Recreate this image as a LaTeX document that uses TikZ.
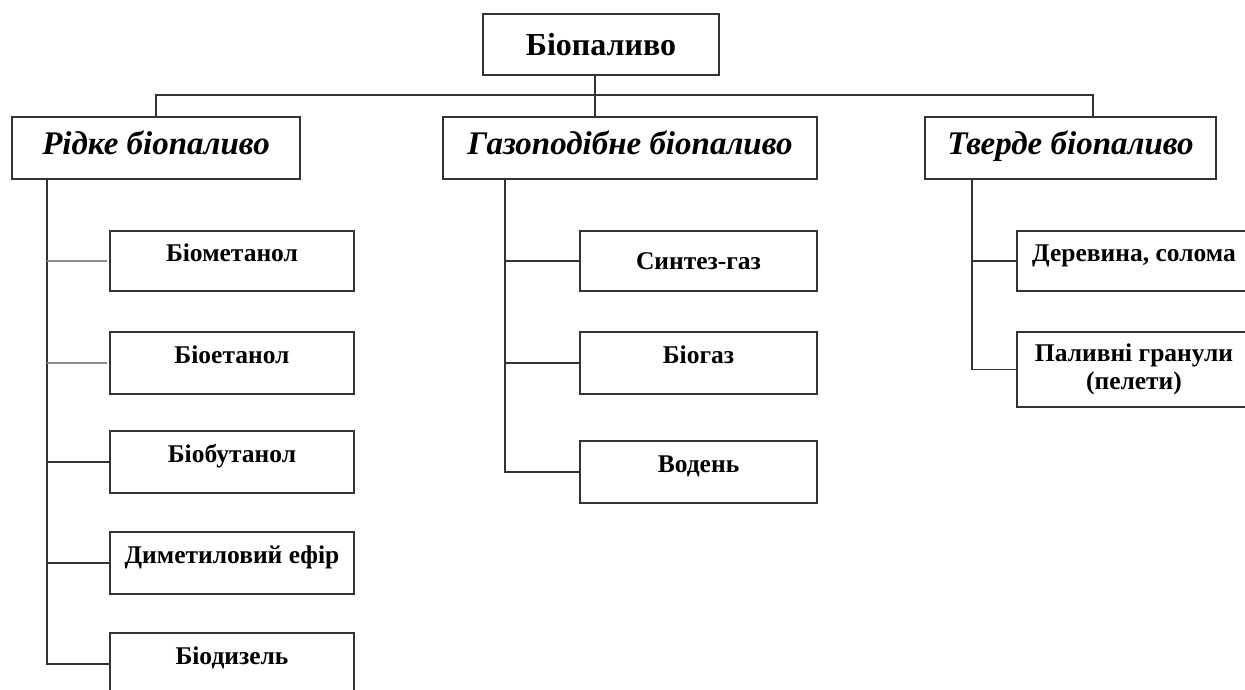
\documentclass[tikz,border=0pt]{standalone}
\usepackage{fontspec}
\setmainfont{Liberation Serif}
\begin{document}
\begin{tikzpicture}[x=1pt,y=-1pt,
  box/.style={draw=black!80, line width=1.3pt, rectangle, inner sep=0pt, align=center},
  topbox/.style={box, font=\fontsize{32}{36}\selectfont\bfseries},
  catbox/.style={box, minimum height=62pt, text height=22pt, text depth=8pt, font=\fontsize{33}{36}\selectfont\bfseries\itshape},
  itembox/.style={box, font=\fontsize{25.5}{28}\selectfont\bfseries},
  raised/.style={text height=16pt, text depth=14.5pt},
  link/.style={draw=black!80, line width=1.3pt},
  greylink/.style={draw=black!45, line width=1.6pt}]
\useasboundingbox (0,0) rectangle (1245,690);
% root
\node[topbox, minimum width=236pt, minimum height=61pt] (root) at (601,44.5) {Біопаливо};
% categories
\node[catbox, minimum width=288pt] (liq) at (156,148) {Рідке біопаливо};
\node[catbox, minimum width=374pt] (gas) at (630,148) {Газоподібне біопаливо};
\node[catbox, minimum width=291pt] (sol) at (1070.5,148) {Тверде біопаливо};
% liquid items
\node[itembox, raised, minimum width=244pt, minimum height=60pt] (l1) at (232,261) {Біометанол};
\node[itembox, raised, minimum width=244pt, minimum height=62pt] (l2) at (232,363) {Біоетанол};
\node[itembox, raised, minimum width=244pt, minimum height=62pt] (l3) at (232,462) {Біобутанол};
\node[itembox, raised, minimum width=244pt, minimum height=62pt] (l4) at (232,563) {Диметиловий ефір};
\node[itembox, raised, minimum width=244pt, minimum height=62pt] (l5) at (232,664) {Біодизель};
% gas items
\node[itembox, minimum width=237pt, minimum height=60pt] (g1) at (698.5,261) {Синтез-газ};
\node[itembox, raised, minimum width=237pt, minimum height=62pt] (g2) at (698.5,363) {Біогаз};
\node[itembox, raised, minimum width=237pt, minimum height=62pt] (g3) at (698.5,472) {Водень};
% solid items
\node[itembox, raised, minimum width=234pt, minimum height=60pt] (s1) at (1134,261) {Деревина, солома};
\node[itembox, minimum width=234pt, minimum height=75pt] (s2) at (1134,369.5) {Паливні гранули\\(пелети)};
% helper coordinates
\coordinate (bus) at (0,95);
\coordinate (vx) at (595,0);
\coordinate (rx) at (1093,0);
\coordinate (lx) at (47,0);
\coordinate (gx) at (505,0);
\coordinate (sx) at (972,0);
\coordinate (lend) at (107,0);
% top level connectors
\draw[link] (root.south -| vx) -- (gas.north -| vx);
\draw[link] (liq.north) -- (liq.north |- bus) -- (rx |- bus) -- (sol.north -| rx);
% liquid branch
\draw[link] (liq.south -| lx) -- (lx |- l5.west) -- (l5.west);
\draw[greylink] (lx |- l1.west) -- (lend |- l1.west);
\draw[greylink] (lx |- l2.west) -- (lend |- l2.west);
\draw[link] (lx |- l3.west) -- (l3.west);
\draw[link] (lx |- l4.west) -- (l4.west);
% gas branch
\draw[link] (gas.south -| gx) -- (gx |- g3.west) -- (g3.west);
\draw[link] (gx |- g1.west) -- (g1.west);
\draw[link] (gx |- g2.west) -- (g2.west);
% solid branch
\draw[link] (sol.south -| sx) -- (sx |- s2.west) -- (s2.west);
\draw[link] (sx |- s1.west) -- (s1.west);
\end{tikzpicture}
\end{document}
